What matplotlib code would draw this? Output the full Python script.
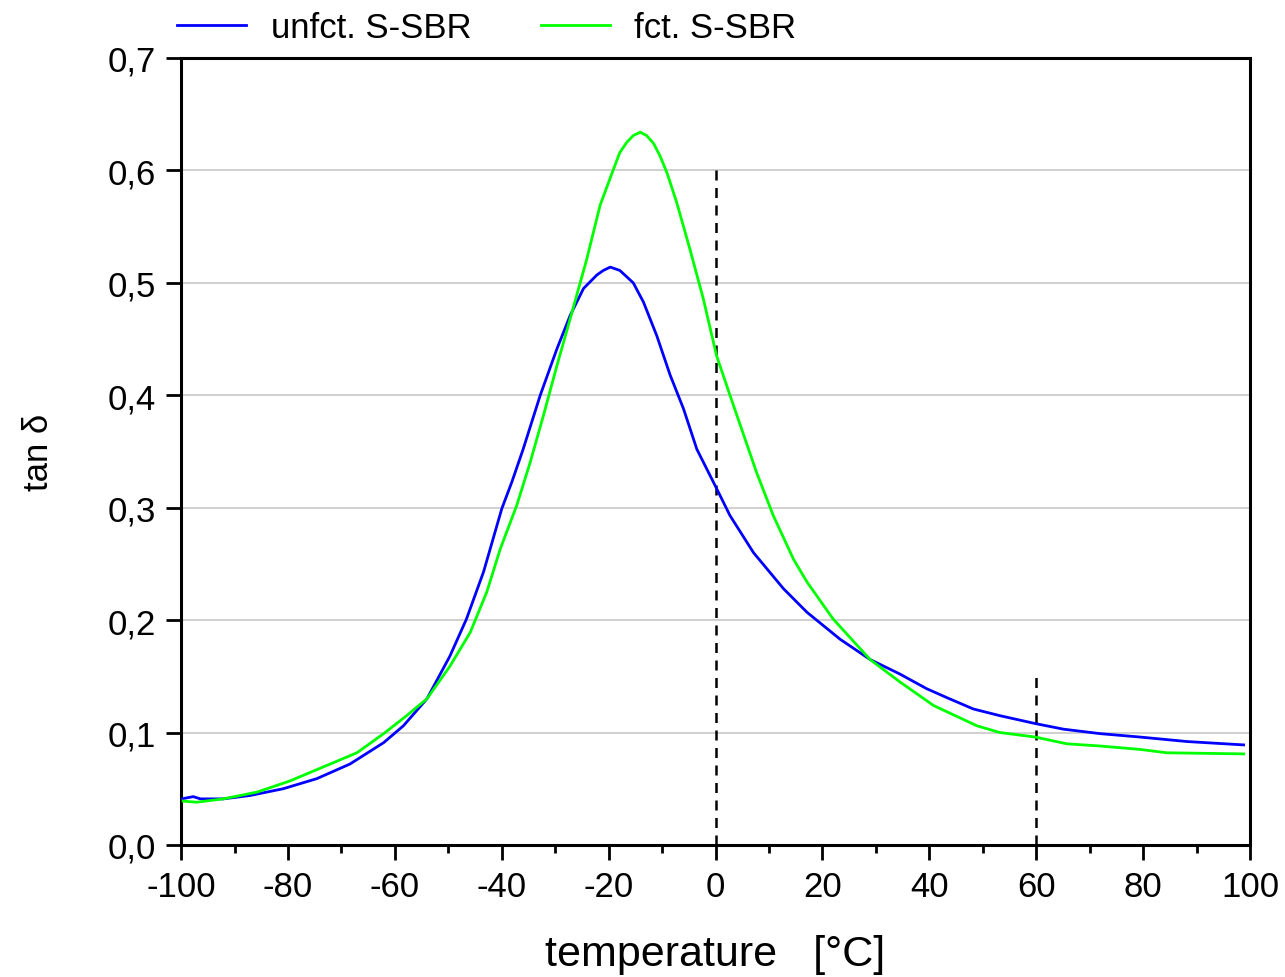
import numpy as np
import matplotlib; matplotlib.use("Agg")
import matplotlib.pyplot as plt
from matplotlib.ticker import MultipleLocator, FuncFormatter

plt.rcParams['font.family'] = ['Liberation Sans', 'DejaVu Sans']

# unfunctionalised S-SBR
T_unf = [-99.9, -97.7, -96.4, -92.1, -87.1, -80.9, -74.6, -68.4, -62.1, -58.4, -54.0,
         -49.7, -46.6, -43.4, -40.0, -38.1, -36.0, -32.8, -29.7, -27.2, -24.7, -22.2,
         -21.0, -19.7, -17.9, -15.4, -13.5, -11.0, -8.5, -6.0, -3.5, 0.2, 2.7, 7.1, 12.7, 17.1, 23.3,
         28.9, 34.5, 39.5, 43.3, 48.2, 53.2, 59.8, 65.1, 72.0, 79.4, 88.2, 98.8]
tan_unf = [0.041, 0.043, 0.041, 0.041, 0.044, 0.050, 0.059, 0.072, 0.091, 0.106, 0.130,
           0.168, 0.201, 0.243, 0.299, 0.323, 0.352, 0.400, 0.441, 0.471, 0.495, 0.507,
           0.511, 0.514, 0.511, 0.500, 0.483, 0.453, 0.418, 0.388, 0.352, 0.317, 0.293, 0.260, 0.228, 0.207, 0.183,
           0.165, 0.152, 0.139, 0.131, 0.121, 0.115, 0.108, 0.103, 0.099, 0.096, 0.092, 0.089]

# functionalised S-SBR
T_fct = [-99.6, -97.1, -92.1, -85.8, -79.6, -72.1, -67.1, -62.1, -57.8, -54.0, -49.7,
         -45.9, -42.8, -40.3, -37.2, -34.7, -32.2, -29.7, -27.2, -24.1, -21.6, -19.1,
         -17.9, -16.6, -15.4, -14.1, -12.9, -11.6, -10.4, -9.1, -7.3, -4.8, -2.3, 0.2, 2.7, 7.7, 10.8, 14.6, 17.1,
         22.0, 28.9, 34.5, 40.8, 48.9, 53.2, 59.8, 65.7, 72.0, 79.4, 84.4, 98.8]
tan_fct = [0.039, 0.038, 0.041, 0.047, 0.057, 0.072, 0.082, 0.099, 0.115, 0.130, 0.159,
           0.189, 0.225, 0.263, 0.302, 0.340, 0.382, 0.426, 0.468, 0.521, 0.569, 0.601,
           0.616, 0.625, 0.631, 0.634, 0.631, 0.624, 0.613, 0.598, 0.572, 0.530, 0.486, 0.435, 0.400, 0.331, 0.293, 0.254, 0.234,
           0.201, 0.165, 0.145, 0.124, 0.106, 0.100, 0.096, 0.090, 0.088, 0.085, 0.082, 0.081]

# dashed markers: (temperature, top value)
vlines_T = [0, 60]
vlines_top = [0.60, 0.15]

fig = plt.figure(figsize=(12.85, 9.78), dpi=100)
ax = fig.add_axes([0.1409, 0.135, 0.8319, 0.8047])

ax.plot(T_unf, tan_unf, color='#0000ff', lw=2.0, label='unfct. S-SBR', zorder=3)
ax.plot(T_fct, tan_fct, color='#00ff00', lw=2.0, label='fct. S-SBR', zorder=3)
for t, top in zip(vlines_T, vlines_top):
    ax.plot([t, t], [0, top], color='k', lw=1.8, ls=(0, (4, 3)), zorder=2)

ax.set_xlim(-100, 100); ax.set_ylim(0, 0.7)
ax.xaxis.set_major_locator(MultipleLocator(20)); ax.xaxis.set_minor_locator(MultipleLocator(10))
ax.yaxis.set_major_locator(MultipleLocator(0.1))
ax.yaxis.set_major_formatter(FuncFormatter(lambda v, p: f"{v:.1f}".replace('.', ',')))
ax.xaxis.set_major_formatter(FuncFormatter(lambda v, p: f"{v:.0f}"))
ax.grid(axis='y', color='#c8c8c8', lw=1.2, zorder=0)
ax.tick_params(direction='out', length=11, width=2, labelsize=25, pad=7)
ax.tick_params(which='minor', direction='out', length=6, width=2)
for s in ax.spines.values():
    s.set_linewidth(2.2)

ax.set_xlabel('temperature   [°C]', fontsize=31, labelpad=22)
ax.set_ylabel('tan δ', fontsize=25, labelpad=38)

ax.legend(loc='lower left', bbox_to_anchor=(-0.017, 1.0), ncol=2, frameon=False, fontsize=25,
          handlelength=2.0, columnspacing=2.0, handletextpad=0.7, borderaxespad=0)

fig.savefig('out.png', dpi=100)
